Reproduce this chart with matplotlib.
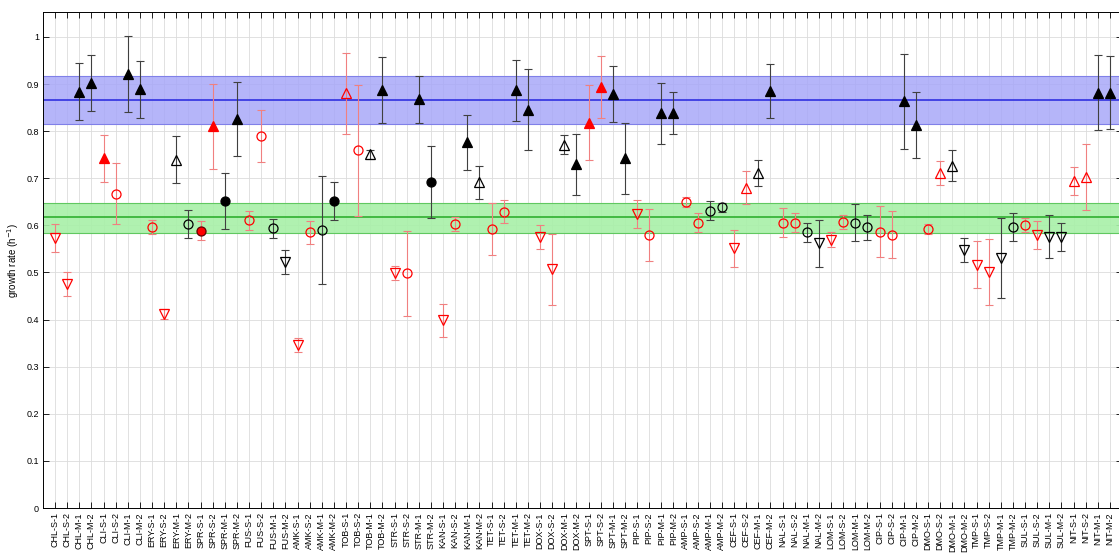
import numpy as np
import matplotlib
matplotlib.use('Agg')
import matplotlib.pyplot as plt

# drug / condition labels
drugs = ['CHL', 'CLI', 'ERY', 'SPR', 'FUS', 'AMK', 'TOB', 'STR', 'KAN', 'TET', 'DOX',
         'SPT', 'PIP', 'AMP', 'CEF', 'NAL', 'LOM', 'CIP', 'DMO', 'TMP', 'SUL', 'NIT']
suffixes = ['S-1', 'S-2', 'M-1', 'M-2']
labels = [d + '-' + s for d in drugs for s in suffixes]

# growth rates and error bars
rate = [0.573, 0.475, 0.884, 0.902, 0.742, 0.667, 0.921, 0.889,
        0.596, 0.412, 0.739, 0.603, 0.589, 0.810, 0.652, 0.826,
        0.611, 0.790, 0.594, 0.522, 0.346, 0.585, 0.590, 0.652,
        0.880, 0.759, 0.751, 0.887, 0.498, 0.498, 0.868, 0.692,
        0.399, 0.603, 0.776, 0.692, 0.592, 0.629, 0.887, 0.846,
        0.575, 0.507, 0.771, 0.730, 0.818, 0.894, 0.879, 0.742,
        0.624, 0.580, 0.838, 0.838, 0.650, 0.606, 0.631, 0.638,
        0.551, 0.680, 0.711, 0.885, 0.606, 0.606, 0.585, 0.562,
        0.570, 0.608, 0.606, 0.596, 0.587, 0.580, 0.863, 0.813,
        0.592, 0.711, 0.727, 0.548, 0.516, 0.502, 0.530, 0.596,
        0.600, 0.580, 0.576, 0.576, 0.694, 0.703, 0.882, 0.882]
err = [0.030, 0.025, 0.060, 0.060, 0.050, 0.065, 0.080, 0.060,
       0.015, 0.010, 0.050, 0.030, 0.020, 0.090, 0.060, 0.078,
       0.020, 0.055, 0.020, 0.025, 0.015, 0.025, 0.115, 0.040,
       0.087, 0.140, 0.010, 0.070, 0.015, 0.090, 0.050, 0.076,
       0.035, 0.015, 0.058, 0.035, 0.055, 0.025, 0.065, 0.085,
       0.025, 0.075, 0.020, 0.065, 0.080, 0.065, 0.060, 0.075,
       0.030, 0.055, 0.065, 0.045, 0.010, 0.020, 0.020, 0.010,
       0.040, 0.035, 0.027, 0.058, 0.030, 0.020, 0.020, 0.050,
       0.015, 0.015, 0.040, 0.027, 0.055, 0.050, 0.100, 0.070,
       0.010, 0.025, 0.033, 0.025, 0.050, 0.070, 0.085, 0.030,
       0.015, 0.030, 0.045, 0.030, 0.030, 0.070, 0.080, 0.077]
# marker class: U = filled up, u = open up, o = open circle, O = filled circle, v = open down
kind = ['v', 'v', 'U', 'U', 'U', 'o', 'U', 'U',
        'o', 'v', 'u', 'o', 'O', 'U', 'O', 'U',
        'o', 'o', 'o', 'v', 'v', 'o', 'o', 'O',
        'u', 'o', 'u', 'U', 'v', 'o', 'U', 'O',
        'v', 'o', 'U', 'u', 'o', 'o', 'U', 'U',
        'v', 'v', 'u', 'U', 'U', 'U', 'U', 'U',
        'v', 'o', 'U', 'U', 'o', 'o', 'o', 'o',
        'v', 'u', 'u', 'U', 'o', 'o', 'o', 'v',
        'v', 'o', 'o', 'o', 'o', 'o', 'U', 'U',
        'o', 'u', 'u', 'v', 'v', 'v', 'v', 'o',
        'o', 'v', 'v', 'v', 'u', 'u', 'U', 'U']

# reference bands (mean, low, high)
fast_band = (0.866, 0.815, 0.917)
slow_band = (0.617, 0.584, 0.648)

fig = plt.figure(figsize=(11.19, 5.58), dpi=100)
ax = fig.add_axes([43 / 1119, 50 / 558, 1079 / 1119, 496 / 558])

x = np.arange(1, len(labels) + 1)

ax.axhspan(fast_band[1], fast_band[2], color='#a8a8f8', alpha=0.85, zorder=1, lw=0)
for v in fast_band[1:]:
    ax.axhline(v, color='#8080e8', lw=0.8, zorder=1.5)
ax.axhline(fast_band[0], color='#3030e0', lw=1.2, zorder=1.5)

ax.axhspan(slow_band[1], slow_band[2], color='#a8f0a8', alpha=0.9, zorder=1, lw=0)
for v in slow_band[1:]:
    ax.axhline(v, color='#60c860', lw=0.8, zorder=1.5)
ax.axhline(slow_band[0], color='#30b030', lw=1.2, zorder=1.5)

mk = {'U': ('^', True), 'u': ('^', False), 'o': ('o', False), 'O': ('o', True), 'v': ('v', False)}
for i in range(len(labels)):
    col = 'red' if i % 4 < 2 else 'black'
    ecol = '#f08080' if col == 'red' else '#404040'
    m, filled = mk[kind[i]]
    face = col if filled else 'none'
    edge = '#600000' if (filled and col == 'red' and m == 'o') else col
    ax.errorbar(x[i], rate[i], yerr=err[i], fmt='none', ecolor=ecol, elinewidth=0.8,
                capsize=3, capthick=0.8, zorder=3)
    ax.plot(x[i], rate[i], marker=m, ms=6.5, mfc=face, mec=edge, mew=0.9,
            ls='none', zorder=4)

ax.set_xlim(0, 89)
ax.set_ylim(0, 1.053)
ax.set_xticks(x)
ax.set_xticklabels(labels, rotation=90, fontsize=6.5, family='Liberation Sans')
ax.set_yticks(np.arange(0, 1.01, 0.1))
ax.set_yticklabels(['0'] + ['%.1f' % v for v in np.arange(0.1, 0.95, 0.1)] + ['1'],
                   fontsize=6.5, family='Liberation Sans')
ax.tick_params(direction='in', top=True, right=True, length=4, width=0.6, pad=3)
ax.grid(True, color='#dcdcdc', lw=0.6, zorder=0)
ax.set_axisbelow(True)
for s in ax.spines.values():
    s.set_linewidth(0.7)
ax.set_ylabel('growth rate (h$^{-1}$)', fontsize=7, family='Liberation Sans', labelpad=4)

fig.savefig('out.png', dpi=100)
